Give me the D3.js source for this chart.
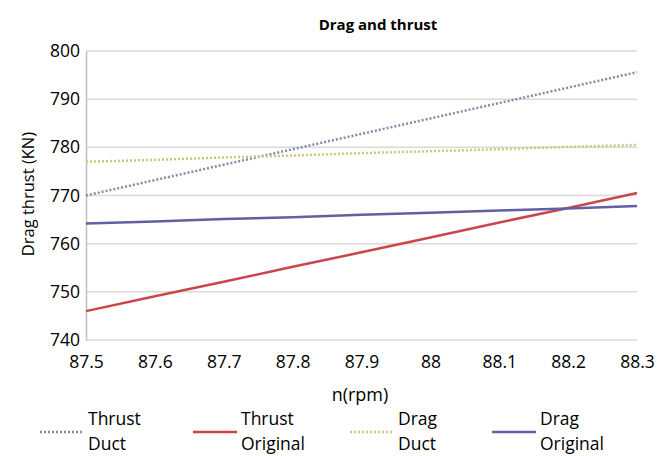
<!DOCTYPE html>
<html><head><meta charset="utf-8">
<script src="https://cdn.jsdelivr.net/npm/d3@7"></script>
<style>body{margin:0;background:#fff}svg{display:block;font-family:"Open Sans",sans-serif}</style>
</head><body><svg id="c" width="668" height="456"></svg>
<script>
const rpm = [87.5, 87.6, 87.7, 87.8, 87.9, 88.0, 88.1, 88.2, 88.3];
const thrustDuct = [770.0, 773.2, 776.4, 779.6, 782.8, 786.0, 789.2, 792.4, 795.6];
const thrustOriginal = [746.0, 749.1, 752.1, 755.2, 758.2, 761.3, 764.4, 767.4, 770.5];
const dragDuct = [777.0, 777.4, 777.9, 778.3, 778.8, 779.2, 779.6, 780.1, 780.5];
const dragOriginal = [764.2, 764.6, 765.1, 765.5, 766.0, 766.4, 766.9, 767.3, 767.8];
const seriesNames = ["Thrust Duct", "Thrust Original", "Drag Duct", "Drag Original"];
const yTicks = [740, 750, 760, 770, 780, 790, 800];
const xTickLabels = ["87.5","87.6","87.7","87.8","87.9","88","88.1","88.2","88.3"];

const series = [
  {name: seriesNames[0], values: thrustDuct, color: "#7d8fa6", dash: "2,2", w: 2.5},
  {name: seriesNames[1], values: thrustOriginal, color: "#c9474a", dash: null, w: 2.5},
  {name: seriesNames[2], values: dragDuct, color: "#c9c77a", dash: "2,2", w: 2.5},
  {name: seriesNames[3], values: dragOriginal, color: "#5f61a3", dash: null, w: 2.5}
];

const svg = d3.select("#c");
const m = {l: 86, r: 637, t: 51, b: 340};
const x = d3.scaleLinear().domain([87.5, 88.3]).range([m.l, m.r]);
const y = d3.scaleLinear().domain([740, 800]).range([m.b, m.t]);

// gridlines
svg.append("g").selectAll("line").data(yTicks).join("line")
  .attr("x1", m.l).attr("x2", m.r)
  .attr("y1", d => y(d)).attr("y2", d => y(d))
  .attr("stroke", "#d9d9d9").attr("stroke-width", 1.5);

// y axis
const ya = svg.append("g").attr("transform", `translate(${m.l},0)`)
  .call(d3.axisLeft(y).tickValues(yTicks).tickSize(0).tickPadding(6));
ya.select(".domain").attr("stroke", "#bfbfbf").attr("stroke-width", 1.5);
ya.selectAll("text").attr("font-size", 17.5).attr("fill", "#000").attr("font-family", "Open Sans");

// x axis
const xa = svg.append("g").attr("transform", `translate(0,${m.b})`)
  .call(d3.axisBottom(x).tickValues(rpm).tickFormat((d, i) => xTickLabels[i]).tickSize(0).tickPadding(16));
xa.select(".domain").remove();
xa.selectAll("text").attr("font-size", 17.5).attr("fill", "#000").attr("font-family", "Open Sans");

// lines
const line = d3.line().x((d, i) => x(rpm[i])).y(d => y(d));
series.forEach(s => {
  svg.append("path").datum(s.values)
    .attr("d", line).attr("fill", "none")
    .attr("stroke", s.color).attr("stroke-width", s.w)
    .attr("stroke-dasharray", s.dash);
});

// title
svg.append("text").attr("x", 378).attr("y", 30).attr("text-anchor", "middle")
  .attr("font-size", 15).attr("font-weight", "bold").text("Drag and thrust");

// axis titles
svg.append("text").attr("transform", "translate(34,194) rotate(-90)")
  .attr("text-anchor", "middle").attr("font-size", 16.5).text("Drag thrust (KN)");
svg.append("text").attr("x", 360).attr("y", 401).attr("text-anchor", "middle")
  .attr("font-size", 18).text("n(rpm)");

// legend
const legX = [40, 193, 350, 492];
const leg = svg.append("g");
series.forEach((s, i) => {
  const g = leg.append("g").attr("transform", `translate(${legX[i]},0)`);
  g.append("line").attr("x1", 0).attr("x2", 44).attr("y1", 432).attr("y2", 432)
    .attr("stroke", s.color).attr("stroke-width", 2.5).attr("stroke-dasharray", s.dash);
  const parts = s.name.split(" ");
  g.append("text").attr("x", 48).attr("y", 425).attr("font-size", 17.5).text(parts[0]);
  g.append("text").attr("x", 48).attr("y", 450).attr("font-size", 17.5).text(parts[1]);
});
</script></body></html>
